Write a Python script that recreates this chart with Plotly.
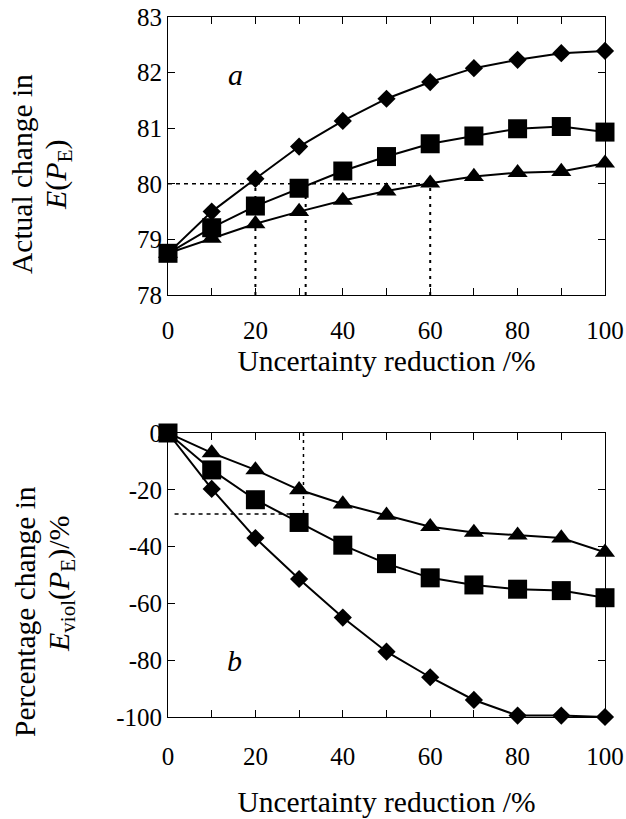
import plotly.graph_objects as go
from plotly.subplots import make_subplots

# ---- data ----
reduction = [0, 10, 20, 30, 40, 50, 60, 70, 80, 90, 100]

# panel a: actual change in E(P_E)
a_diamond = [78.75, 79.50, 80.09, 80.67, 81.13, 81.53, 81.83, 82.08, 82.23, 82.35, 82.39]
a_square = [78.75, 79.21, 79.60, 79.92, 80.23, 80.49, 80.72, 80.86, 80.99, 81.03, 80.93]
a_triangle = [78.75, 79.02, 79.28, 79.50, 79.70, 79.87, 80.01, 80.13, 80.20, 80.22, 80.37]

# panel b: percentage change in E_viol(P_E)
b_diamond = [0, -19.7, -37.0, -51.4, -65.0, -77.0, -86.0, -94.0, -99.5, -99.5, -100.0]
b_square = [0, -13.0, -23.5, -31.5, -39.5, -46.0, -51.0, -53.5, -55.0, -55.5, -58.0]
b_triangle = [0, -7.0, -13.0, -20.0, -25.0, -29.0, -33.0, -35.0, -36.0, -37.0, -42.0]

# guide lines
a_guide_h_x = [0, 60]
a_guide_h_y = [80, 80]
a_guide_v_x = [20, 31.5, 60]
a_guide_v_y = [78, 80]
b_guide_h_x = [1.5, 31]
b_guide_h_y = [-28.5, -28.5]
b_guide_v_x = [31, 31]
b_guide_v_y = [0, -28.5]

x_ticks = [0, 10, 20, 30, 40, 50, 60, 70, 80, 90, 100]
x_ticktext = ["0", "", "20", "", "40", "", "60", "", "80", "", "100"]
a_yticks = [78, 79, 80, 81, 82, 83]
a_yticktext = ["78", "79", "80", "81", "82", "83"]
b_yticks = [0, -20, -40, -60, -80, -100]
b_yticktext = ["0", "-20", "-40", "-60", "-80", "-100"]

FONT = "Liberation Serif, Times New Roman, serif"
W, H = 626, 819
L, R, T, B = 168, 21, 17, 102

fig = make_subplots(rows=2, cols=1)

series_style = [
    (dict(symbol="diamond", size=14), "diamond"),
    (dict(symbol="square", size=19), "square"),
    (dict(symbol="triangle-up", size=17.5), "triangle"),
]

# guide lines first (behind data)
fig.add_trace(go.Scatter(x=a_guide_h_x, y=a_guide_h_y, mode="lines",
                         line=dict(color="black", width=1.5, dash="4px,4px"),
                         showlegend=False), row=1, col=1)
for gx in a_guide_v_x:
    fig.add_trace(go.Scatter(x=[gx, gx], y=a_guide_v_y, mode="lines",
                             line=dict(color="black", width=2, dash="3px,5px"),
                             showlegend=False), row=1, col=1)
fig.add_trace(go.Scatter(x=b_guide_h_x, y=b_guide_h_y, mode="lines",
                         line=dict(color="black", width=1.5, dash="4px,4px"),
                         showlegend=False), row=2, col=1)
fig.add_trace(go.Scatter(x=b_guide_v_x, y=b_guide_v_y, mode="lines",
                         line=dict(color="black", width=1.5, dash="3px,4px"),
                         showlegend=False), row=2, col=1)

for row, data in ((1, [a_diamond, a_square, a_triangle]), (2, [b_diamond, b_square, b_triangle])):
    for (mk, name), ys in zip(series_style, data):
        fig.add_trace(go.Scatter(
            x=reduction, y=ys, mode="lines+markers", name=name,
            line=dict(color="black", width=2),
            marker=dict(color="black", **mk),
            showlegend=False, cliponaxis=False,
        ), row=row, col=1)

axis_common = dict(showline=True, linecolor="black", linewidth=1, mirror="ticks",
                   ticks="inside", tickcolor="black", ticklen=7, tickwidth=1,
                   showgrid=False, zeroline=False,
                   tickfont=dict(family=FONT, size=25, color="black"))

xtitle = "Uncertainty reduction /%"
fig.update_xaxes(range=[0, 100], tickvals=x_ticks, ticktext=x_ticktext, **axis_common)
fig.update_xaxes(ticklabelstandoff=13,
                 title=dict(text=xtitle, font=dict(family=FONT, size=29.5, color="black"), standoff=7),
                 row=1, col=1)
fig.update_xaxes(ticklabelstandoff=17,
                 title=dict(text=xtitle, font=dict(family=FONT, size=29.5, color="black"), standoff=22),
                 row=2, col=1)
fig.update_yaxes(**axis_common)
fig.update_yaxes(range=[78, 83], tickvals=a_yticks, ticktext=a_yticktext, row=1, col=1)
fig.update_yaxes(range=[-100, 0], tickvals=b_yticks, ticktext=b_yticktext, row=2, col=1)

plot_w = W - L - R
plot_h = H - T - B
top_y0 = (717 - 295) / plot_h
bot_y1 = (717 - 433) / plot_h
fig.update_layout(
    yaxis=dict(domain=[top_y0, 1]),
    yaxis2=dict(domain=[0, bot_y1]),
    xaxis=dict(domain=[0, 1]),
    xaxis2=dict(domain=[0, 1]),
)

def px(xp):
    return (xp - L) / plot_w

def py(yp):
    return (H - B - yp) / plot_h

ytitles = [
    ("Actual change in", 22, 174, 29.5),
    ("<i>E</i>(<i>P</i><sub>E</sub>)", 58, 175, 30),
    ("Percentage change in", 25, 612, 29.5),
    ("<i>E</i><sub>viol</sub>(<i>P</i><sub>E</sub>)/%", 61, 584, 30),
]
for txt, xc, yc, fs in ytitles:
    fig.add_annotation(x=px(xc), y=py(yc), xref="paper", yref="paper", text=txt,
                       textangle=-90, showarrow=False, xanchor="center", yanchor="middle",
                       font=dict(family=FONT, size=fs, color="black"))

fig.add_annotation(x=15.4, y=81.96, xref="x", yref="y", text="<i>a</i>", showarrow=False,
                   font=dict(family=FONT, size=30, color="black"))
fig.add_annotation(x=15.3, y=-80, xref="x2", yref="y2", text="<i>b</i>", showarrow=False,
                   font=dict(family=FONT, size=30, color="black"))

fig.update_layout(width=W, height=H, margin=dict(l=L, r=R, t=T, b=B, autoexpand=False),
                  plot_bgcolor="white", paper_bgcolor="white",
                  font=dict(family=FONT, color="black"))

fig.write_html("out.html", config={"displayModeBar": False},
               post_script="document.body.style.margin='0';document.documentElement.style.margin='0';document.body.style.overflow='hidden';")
